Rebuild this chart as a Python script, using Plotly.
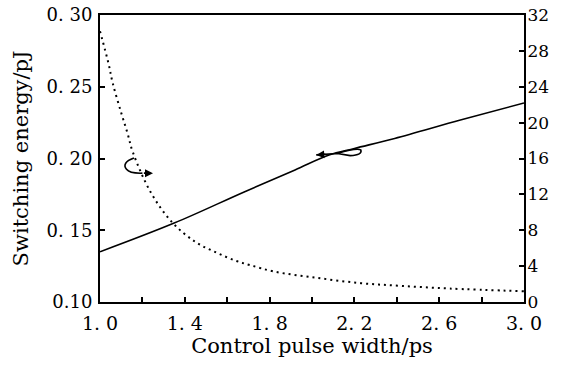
import plotly.graph_objects as go

# Switching energy (left axis, pJ)
energy_x = [1.0, 1.35, 1.68, 1.92, 2.08, 2.2, 2.39, 2.7, 3.0]
energy_y = [0.135, 0.155, 0.1767, 0.192, 0.2024, 0.207, 0.214, 0.2268, 0.2387]

# Second quantity (right axis)
right_x = [1.0, 1.04, 1.06, 1.10, 1.13, 1.155, 1.24, 1.34, 1.45, 1.55, 1.64, 1.71, 1.82, 2.02, 2.23, 2.42, 2.65, 3.0]
right_y = [30.2, 26.6, 24.4, 21.1, 18.8, 16.7, 12.2, 8.9, 6.7, 5.5, 4.6, 4.1, 3.4, 2.7, 2.1, 1.8, 1.5, 1.2]

x_tickvals = [1.0, 1.2, 1.4, 1.6, 1.8, 2.0, 2.2, 2.4, 2.6, 2.8, 3.0]
x_ticktext = ["1. 0", "", "1. 4", "", "1. 8", "", "2. 2", "", "2. 6", "", "3. 0"]
y_tickvals = [0.10, 0.15, 0.20, 0.25, 0.30]
y_ticktext = ["0.10", "0. 15", "0. 20", "0. 25", "0. 30"]
y2_tickvals = [0, 4, 8, 12, 16, 20, 24, 28, 32]

FONT = "DejaVu Serif"

fig = go.Figure()
fig.add_trace(go.Scatter(x=energy_x, y=energy_y, mode="lines",
                         line=dict(color="black", width=1.6, shape="spline"),
                         showlegend=False))
fig.add_trace(go.Scatter(x=right_x, y=right_y, mode="lines", yaxis="y2",
                         line=dict(color="black", width=2, dash="2px,4px", shape="spline"),
                         showlegend=False))

# curly indicator arrows
fig.add_shape(type="path", xref="x", yref="y",
              path="M 1.160 0.2003 Q 1.10 0.197 1.125 0.1925 Q 1.14 0.1895 1.2 0.1898",
              line=dict(color="black", width=1.6))
fig.add_annotation(x=1.25, y=0.1898, ax=1.2, ay=0.1898, xref="x", yref="y", axref="x", ayref="y",
                   showarrow=True, arrowhead=2, arrowsize=1, arrowwidth=1.6,
                   arrowcolor="black", text="")
fig.add_shape(type="path", xref="x", yref="y",
              path="M 2.02 0.2025 L 2.12 0.2035 Q 2.21 0.2075 2.23 0.2060 Q 2.24 0.2025 2.18 0.2020 Q 2.14 0.2030 2.12 0.2035",
              line=dict(color="black", width=1.6))
fig.add_annotation(x=2.02, y=0.2025, ax=2.07, ay=0.2030, xref="x", yref="y", axref="x", ayref="y",
                   showarrow=True, arrowhead=2, arrowsize=1, arrowwidth=1.6,
                   arrowcolor="black", text="")

fig.update_layout(
    width=568, height=365,
    margin=dict(l=100, r=44, t=15, b=63, autoexpand=False),
    paper_bgcolor="white", plot_bgcolor="white",
    font=dict(family=FONT, color="black", size=18),
    xaxis=dict(range=[1.0, 3.0], tickvals=x_tickvals, ticktext=x_ticktext,
               ticks="inside", ticklen=5, tickwidth=1.5, tickcolor="black",
               showline=True, linecolor="black", linewidth=2, mirror=True,
               showgrid=False, zeroline=False, ticklabelstandoff=3, automargin=False,
               ticklabeloverflow="allow", tickfont=dict(size=19),
               title=dict(text="Control pulse width/ps", standoff=0, font=dict(size=21))),
    yaxis=dict(range=[0.10, 0.30], tickvals=y_tickvals, ticktext=y_ticktext,
               ticks="inside", ticklen=5, tickwidth=1.5, tickcolor="black",
               showline=True, linecolor="black", linewidth=2, automargin=False,
               showgrid=False, zeroline=False, ticklabelstandoff=2,
               ticklabeloverflow="allow",
               title=dict(text="Switching energy/pJ", standoff=12, font=dict(size=21))),
    yaxis2=dict(range=[0, 32], tickvals=y2_tickvals, overlaying="y", side="right",
                ticks="inside", ticklen=5, tickwidth=1.5, tickcolor="black",
                showline=True, linecolor="black", linewidth=2, automargin=False,
                showgrid=False, zeroline=False, ticklabelstandoff=-2,
                ticklabeloverflow="allow", tickfont=dict(size=17)),
)

# remove the default page margin so the figure sits at the window's top-left corner
fig.write_html("out.html", config={"displayModeBar": False},
               post_script="document.body.style.margin='0';")
